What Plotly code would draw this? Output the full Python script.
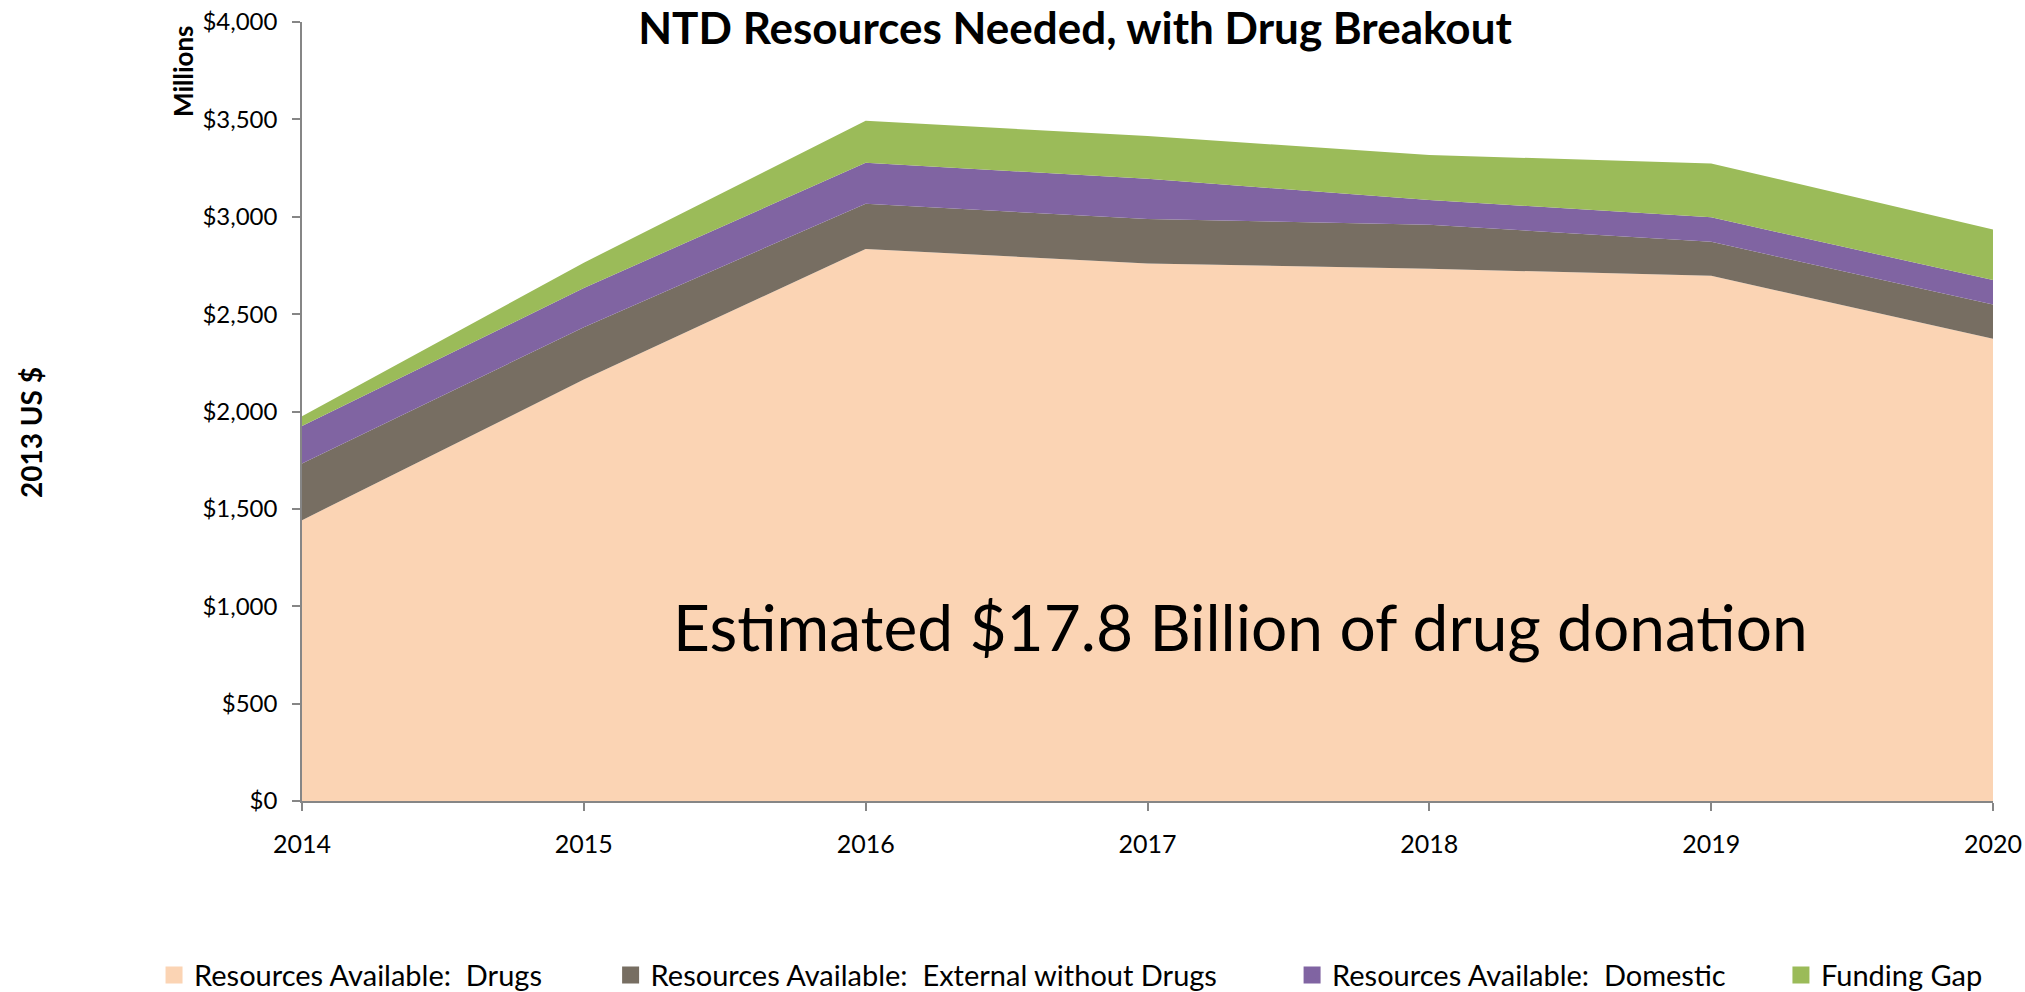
import plotly.graph_objects as go

years = [2014, 2015, 2016, 2017, 2018, 2019, 2020]
drugs = [1442, 2164, 2835, 2760, 2733, 2697, 2373]
external = [291, 269, 232, 228, 226, 174, 177]
domestic = [192, 201, 210, 207, 127, 126, 125]
gap = [51, 130, 216, 219, 231, 277, 260]

series_names = [
    "Resources Available:  Drugs",
    "Resources Available:  External without Drugs",
    "Resources Available:  Domestic",
    "Funding Gap",
]
series_values = [drugs, external, domestic, gap]
colors = ["#FBD4B4", "#776E62", "#8064A2", "#9BBB59"]
y_ticks = [0, 500, 1000, 1500, 2000, 2500, 3000, 3500, 4000]

FONT = "Lato"

fig = go.Figure()
for name, vals, col in zip(series_names, series_values, colors):
    fig.add_trace(go.Scatter(
        x=years, y=vals, name=name, stackgroup="one", mode="lines",
        line=dict(width=0, color=col), fillcolor=col, showlegend=False,
        legendgroup=name,
    ))

legend_ids = ["legend", "legend2", "legend3", "legend4"]
legend_x = [-0.0875, 0.1825, 0.5855, 0.8746]
for name, col, lid in zip(series_names, colors, legend_ids):
    fig.add_trace(go.Bar(
        x=[None], y=[None], name=name, marker=dict(color=col, line=dict(color=col, width=6)),
        legend=lid, legendgroup=name, showlegend=True,
    ))

legend_common = dict(orientation="h", yanchor="middle", y=-0.2234, xanchor="left",
                     font=dict(family=FONT, size=29, color="#000000"),
                     bgcolor="rgba(0,0,0,0)", borderwidth=0)
layout_legends = {}
for lid, lx in zip(legend_ids, legend_x):
    layout_legends[lid] = dict(legend_common, x=lx)

fig.update_layout(
    width=2025, height=992,
    margin=dict(l=302, r=32, t=22, b=191, autoexpand=False),
    paper_bgcolor="white", plot_bgcolor="white",
    font=dict(family=FONT, color="#000000"),
    showlegend=True,
    title=dict(text="<b>NTD Resources Needed, with Drug Breakout</b>",
               font=dict(family=FONT, size=44, color="#000000"),
               x=(1075) / 2025, xanchor="center", y=1 - 29 / 992, yanchor="middle"),
    xaxis=dict(range=[2014, 2020], tickvals=years, ticktext=[str(y) for y in years],
               showgrid=False, zeroline=False, showline=True, linecolor="#868686", linewidth=1.5,
               ticks="outside", ticklen=8, tickcolor="#868686", tickwidth=1.5,
               tickfont=dict(family=FONT, size=25, color="#000000"), ticklabelstandoff=12),
    yaxis=dict(range=[0, 4000], tickvals=y_ticks, tickformat="$,.0f",
               showgrid=False, zeroline=False, showline=True, linecolor="#868686", linewidth=1.5,
               ticks="outside", ticklen=8, tickcolor="#868686", tickwidth=1.5,
               tickfont=dict(family=FONT, size=24, color="#000000"), ticklabelstandoff=10),
    annotations=[
        dict(text="Estimated $17.8 Billion of drug donation", xref="paper", yref="paper",
             x=(1240 - 302) / 1691, y=(801 - 626) / 779, xanchor="center", yanchor="middle",
             showarrow=False, font=dict(family=FONT, size=64, color="#000000")),
        dict(text="<b>Millions</b>", xref="paper", yref="paper",
             x=(183 - 302) / 1691, y=(801 - 71) / 779, xanchor="center", yanchor="middle",
             textangle=-90, showarrow=False, font=dict(family=FONT, size=26, color="#000000")),
        dict(text="<b>2013 US $</b>", xref="paper", yref="paper",
             x=(31 - 302) / 1691, y=(801 - 433) / 779, xanchor="center", yanchor="middle",
             textangle=-90, showarrow=False, font=dict(family=FONT, size=28, color="#000000")),
    ],
    **layout_legends,
)

fig.write_html("out.html")
